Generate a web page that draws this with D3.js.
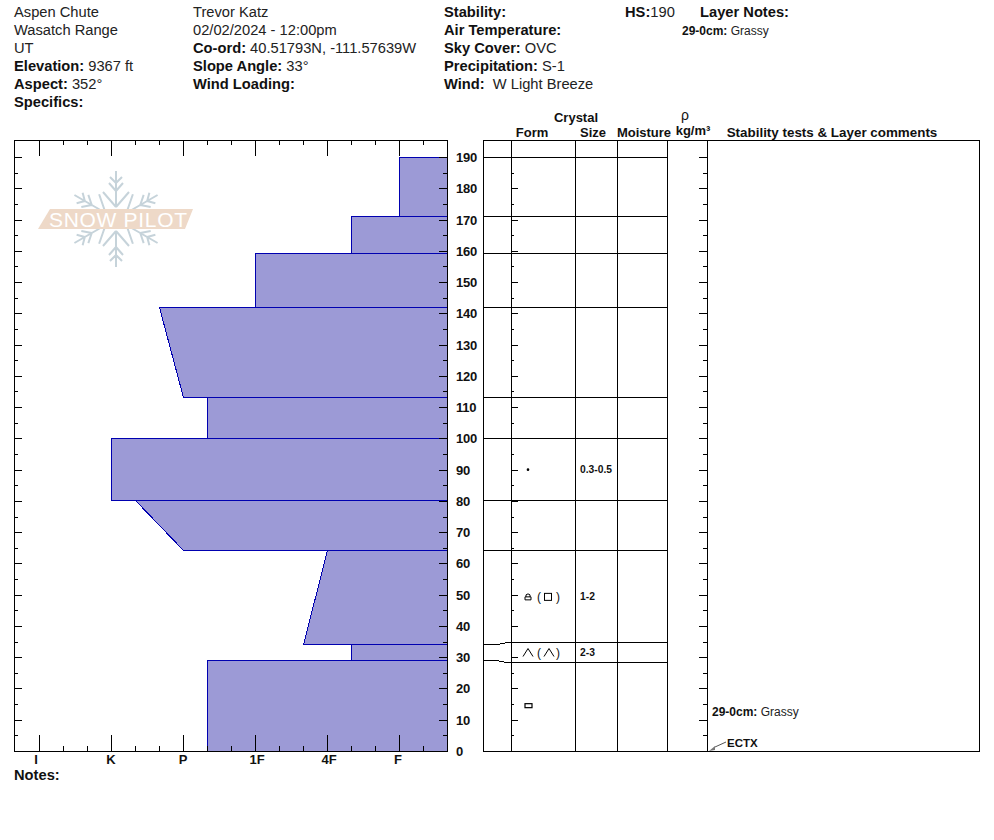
<!DOCTYPE html>
<html>
<head>
<meta charset="utf-8">
<style>
body { margin: 0; background: #fff; }
svg { display: block; font-family: "Liberation Sans", Arial, sans-serif; fill: #111; }
.line { stroke: #000; stroke-width: 1; shape-rendering: crispEdges; fill: none; }
.b { font-weight: bold; }
</style>
<script src="https://cdnjs.cloudflare.com/ajax/libs/d3/7.8.5/d3.min.js"></script>
</head>
<body>
<script>
// hand hardness labels, left to right
const hardnessLabels = ["I", "K", "P", "1F", "4F", "F"];

// layers, top of pack downwards. hardness is in steps of the labels above (I=0, K=1 ...)
const layerTop = [190, 171, 159.3, 142, 113.2, 100, 80.3, 64.3, 34.2, 29.1];
const layerBottom = [171, 159.3, 142, 113.2, 100, 80.3, 64.3, 34.2, 29.1, 0];
const hardnessTop = [5, 4.333, 3, 1.667, 2.333, 1, 1.333, 4, 4.333, 2.333];
const hardnessBottom = [5, 4.333, 3, 2, 2.333, 1, 2, 3.667, 4.333, 2.333];

// where each boundary ends up on the form/size grid (only the thin layer gets pushed apart)
const gridBoundary = [190, 171, 159.3, 142, 113.2, 100, 80.3, 64.3, 34.8, 28.5];

const depthTicks = d3.range(0, 191, 5);
const depthLabels = d3.range(0, 191, 10);

const grainDepth = [90, 49.3, 31.5, 14.5];
const grainForm = ["dot", "facet", "depth", "box"];
const grainSize = ["0.3-0.5", "1-2", "2-3", ""];

const headerCol1 = [["", "Aspen Chute"], ["", "Wasatch Range"], ["", "UT"], ["Elevation:", " 9367 ft"], ["Aspect:", " 352°"], ["Specifics:", ""]];
const headerCol2 = [["", "Trevor Katz"], ["", "02/02/2024 - 12:00pm"], ["Co-ord:", " 40.51793N, -111.57639W"], ["Slope Angle:", " 33°"], ["Wind Loading:", ""]];
const headerCol3 = [["Stability:", ""], ["Air Temperature:", ""], ["Sky Cover:", " OVC"], ["Precipitation:", " S-1"], ["Wind:", "  W Light Breeze"]];

const width = 994, height = 840;
const plotLeft = 14, plotRight = 447, gridLeft = 483, gridRight = 979;
const plotTop = 140, plotBottom = 751;
const gridCols = [511, 575, 617, 667, 707];

const svg = d3.select("body").append("svg").attr("width", width).attr("height", height);

const y = d3.scaleLinear().domain([0, 190]).range([plotBottom, 157]);
const x = d3.scaleLinear().domain([0, 5]).range([39, 399]);

function boldPlain(g, px, py, pair, size) {
    const t = g.append("text").attr("x", px).attr("y", py).attr("font-size", size || 14.7).attr("xml:space", "preserve");
    if (pair[0]) t.append("tspan").attr("class", "b").text(pair[0]);
    if (pair[1]) t.append("tspan").attr("fill", "#222").text(pair[1]);
}

// header
const header = svg.append("g");
headerCol1.forEach((d, i) => boldPlain(header, 14, 17 + i * 18, d));
headerCol2.forEach((d, i) => boldPlain(header, 193, 17 + i * 18, d));
headerCol3.forEach((d, i) => boldPlain(header, 444, 17 + i * 18, d));
boldPlain(header, 625, 17, ["HS:", "190"]);
boldPlain(header, 700, 17, ["Layer Notes:", ""]);
boldPlain(header, 682, 35, ["29-0cm:", " Grassy"], 12);

// logo
const logo = svg.append("g").attr("transform", "translate(116,219)");
logo.append("g").attr("stroke", "#c6d3da").attr("stroke-width", 2).attr("fill", "none")
    .selectAll("g").data([30, 90, 150, 210, 270, 330]).join("g")
    .attr("transform", d => "rotate(" + d + ")")
    .each(function () {
        d3.select(this).append("path")
            .attr("d", "M12,0L48,0M12,0L27,-13M12,0L27,13M28,0L36,-7M28,0L36,7M36,0L42,-6M36,0L42,6");
    });
logo.append("path").attr("d", "M-66,-10L77,-10L69,10L-78,10Z").attr("fill", "#eed9c8");
logo.append("text").attr("x", 2).attr("y", 8).attr("text-anchor", "middle")
    .attr("font-size", 21).attr("fill", "#fff")
    .attr("textLength", 138).text("SNOW PILOT");

// hardness profile
const profile = d3.line().x(d => d[0]).y(d => d[1]);
layerTop.forEach((d, i) => {
    const pts = [
        [plotRight, y(d)],
        [x(hardnessTop[i]), y(d)],
        [x(hardnessBottom[i]), y(layerBottom[i])],
        [plotRight, y(layerBottom[i])]
    ];
    svg.append("path").attr("d", profile(pts)).attr("shape-rendering", "crispEdges")
        .attr("transform", "translate(.5,.5)")
        .attr("fill", "#9c9ad6").attr("stroke", "#0000b0").attr("stroke-width", 1);
});

// plot frame and ticks
svg.append("rect").attr("class", "line").attr("x", plotLeft + .5).attr("y", plotTop + .5)
    .attr("width", plotRight - plotLeft).attr("height", plotBottom - plotTop);

const hardnessTicks = d3.range(0, 18).map(d => d / 3).filter(d => x(d) < plotRight);
hardnessTicks.forEach((h, i) => {
    const len = i % 3 === 0 ? 16 : 5;
    const px = Math.round(x(h)) + .5;
    svg.append("path").attr("class", "line").attr("d", `M${px},${plotTop}v${len}M${px},${plotBottom}v${-len}`);
});
depthTicks.forEach(d => {
    const len = d % 10 === 0 ? 8 : 4;
    const py = Math.round(y(d)) + .5;
    svg.append("path").attr("class", "line").attr("d", `M${plotLeft},${py}h${len}M${plotRight},${py}h${-len}`);
    svg.append("path").attr("class", "line").attr("d", `M511,${py}h${len - 1}M707,${py}h${-len}`);
});

svg.append("g").attr("class", "b").attr("font-size", 13).attr("letter-spacing", -0.2)
    .selectAll("text").data(depthLabels).join("text")
    .attr("x", 456).attr("y", d => y(d) + 5).text(d => d);

svg.append("g").attr("class", "b").attr("font-size", 13).attr("text-anchor", "middle")
    .selectAll("text").data(hardnessLabels).join("text")
    .attr("x", (d, i) => x(i) - (d === "I" ? 3 : d === "F" ? 1 : d.length > 1 ? -2 : 0))
    .attr("y", 764).text(d => d);
boldPlain(svg, 14, 780, ["Notes:", ""]);

// right hand grid
svg.append("rect").attr("class", "line").attr("x", gridLeft + .5).attr("y", plotTop + .5)
    .attr("width", gridRight - gridLeft).attr("height", plotBottom - plotTop);
gridCols.forEach(c => {
    svg.append("path").attr("class", "line").attr("d", `M${c + .5},${plotTop}V${plotBottom}`);
});
const connector = d3.line().x(d => d[0]).y(d => d[1]);
gridBoundary.forEach((d, i) => {
    const pts = [[gridLeft, y(layerTop[i])], [496, y(layerTop[i])], [506, y(d)], [667, y(d)]];
    svg.append("path").attr("d", connector(pts)).attr("shape-rendering", "crispEdges")
        .attr("transform", "translate(.5,.5)")
        .attr("fill", "none").attr("stroke", "#000").attr("stroke-width", 1);
});

// column titles
const titles = svg.append("g").attr("class", "b").attr("font-size", 13).attr("text-anchor", "middle");
titles.append("text").attr("x", 532).attr("y", 137).text("Form");
titles.append("text").attr("x", 576).attr("y", 122).text("Crystal");
titles.append("text").attr("x", 593).attr("y", 137).text("Size");
titles.append("text").attr("x", 644).attr("y", 137).text("Moisture");
titles.append("text").attr("x", 685).attr("y", 120).attr("font-weight", "normal").attr("font-size", 14).text("ρ");
titles.append("text").attr("x", 693).attr("y", 135).text("kg/m³");
titles.append("text").attr("x", 832).attr("y", 137).attr("font-size", 13.4).text("Stability tests & Layer comments");

// grain form symbols, drawn around the row's depth
function hat(g, cx, cy) {
    g.append("path").attr("d", `M${cx - 5},${cy + 4}L${cx},${cy - 4}L${cx + 5},${cy + 4}`)
        .attr("fill", "none").attr("stroke", "#000").attr("stroke-width", 1);
}
function parens(g, cx, cy) {
    g.append("text").attr("x", cx - 7).attr("y", cy + 4).attr("font-size", 12).attr("text-anchor", "end").text("(");
    g.append("text").attr("x", cx + 8).attr("y", cy + 4).attr("font-size", 12).text(")");
}
grainDepth.forEach((d, i) => {
    const cy = y(d), g = svg.append("g");
    if (grainForm[i] === "dot") {
        g.append("circle").attr("cx", 528).attr("cy", cy).attr("r", 1.3).attr("fill", "#000");
    } else if (grainForm[i] === "box") {
        g.append("rect").attr("x", 525).attr("y", cy - 2).attr("width", 7).attr("height", 4)
            .attr("fill", "none").attr("stroke", "#000").attr("stroke-width", 1.2);
    } else if (grainForm[i] === "facet") {
        g.append("path").attr("d", `M525,${cy + 3}V${cy}H531V${cy + 3}ZM526,${cy}V${cy - 2}Q528,${cy - 4} 530,${cy - 2}V${cy}`)
            .attr("fill", "none").attr("stroke", "#000").attr("stroke-width", 1);
        parens(g, 548, cy);
        g.append("rect").attr("x", 544.5).attr("y", cy - 3.5).attr("width", 7).attr("height", 7)
            .attr("fill", "none").attr("stroke", "#000").attr("stroke-width", 1);
    } else if (grainForm[i] === "depth") {
        hat(g, 528, cy);
        parens(g, 548, cy);
        hat(g, 549, cy);
    }
    if (grainSize[i]) {
        g.append("text").attr("class", "b").attr("x", 580).attr("y", cy + 3.5)
            .attr("font-size", 10.3).text(grainSize[i]);
    }
});

// layer comment and stability test
boldPlain(svg, 712, 716, ["29-0cm:", " Grassy"], 12);
svg.append("text").attr("class", "b").attr("x", 727).attr("y", 747).attr("font-size", 11.5).text("ECTX");
svg.append("path").attr("d", "M715,747L726,742").attr("stroke", "#555").attr("fill", "none");
svg.append("path").attr("d", "M709,751L715,746L715,750Z").attr("fill", "#777");
</script>
</body>
</html>
